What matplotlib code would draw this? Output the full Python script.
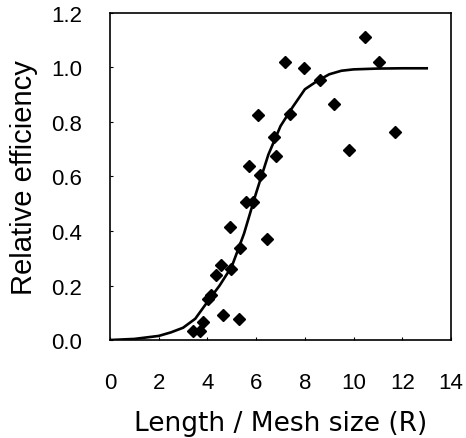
#!/usr/bin/env python3
# -*- coding: utf-8 -*-
"""Selectivity curve: relative efficiency vs length / mesh size."""

import matplotlib
matplotlib.use("Agg")
import matplotlib.pyplot as plt
from matplotlib.ticker import FormatStrFormatter

obs_r = [10.47, 7.18, 7.98, 11.06, 8.62, 9.20, 6.06, 7.38, 11.69, 6.73,
         9.82, 6.80, 5.69, 6.17, 5.57, 5.88, 4.93, 6.43, 5.34, 4.57,
         4.95, 4.36, 4.04, 4.15, 3.81, 3.42, 3.69, 4.64, 5.28]
obs_eff = [1.113, 1.019, 0.998, 1.019, 0.954, 0.865, 0.827, 0.830, 0.762, 0.744,
           0.696, 0.676, 0.640, 0.605, 0.508, 0.508, 0.413, 0.371, 0.338, 0.276,
           0.261, 0.237, 0.150, 0.167, 0.067, 0.032, 0.034, 0.090, 0.076]

# fitted curve, sampled from the figure
fit_r = [0, 1, 2, 2.5, 3, 3.5, 4, 4.5, 5, 5.5, 6, 6.5, 7, 7.5, 8, 8.5,
         9, 9.5, 10, 11, 12, 13]
fit_eff = [0, 0.004, 0.015, 0.028, 0.045, 0.078, 0.14, 0.2, 0.27, 0.39,
           0.54, 0.68, 0.785, 0.855, 0.92, 0.95, 0.975, 0.988, 0.993,
           0.996, 0.997, 0.997]

x_ticks = [0, 2, 4, 6, 8, 10, 12, 14]
y_ticks = [0.0, 0.2, 0.4, 0.6, 0.8, 1.0, 1.2]

plt.rcParams["font.family"] = ["Liberation Sans", "DejaVu Sans"]

fig = plt.figure(figsize=(4.66, 4.39), dpi=100)
ax = fig.add_axes([0.236, 0.2232, 0.732, 0.745])

ax.plot(fit_r, fit_eff, color="black", lw=1.9, zorder=2)
ax.plot(obs_r, obs_eff, "D", color="black", ms=6.3, zorder=3)

ax.set_xlim(0, 14)
ax.set_ylim(0, 1.2)
ax.set_xticks(x_ticks)
ax.set_yticks(y_ticks)
ax.yaxis.set_major_formatter(FormatStrFormatter("%.1f"))
ax.tick_params(direction="in", length=2, width=0.8, labelsize=16)
ax.tick_params(axis="y", pad=20)
ax.tick_params(axis="x", pad=23)

for s in ax.spines.values():
    s.set_linewidth(1.2)

ax.set_xlabel("Length / Mesh size (R)", fontsize=19, family="DejaVu Sans")
ax.set_ylabel("Relative efficiency", fontsize=21)
ax.xaxis.set_label_coords(0.5, -0.215)
ax.yaxis.set_label_coords(-0.21, 0.5)

fig.savefig("out.png", dpi=100)
